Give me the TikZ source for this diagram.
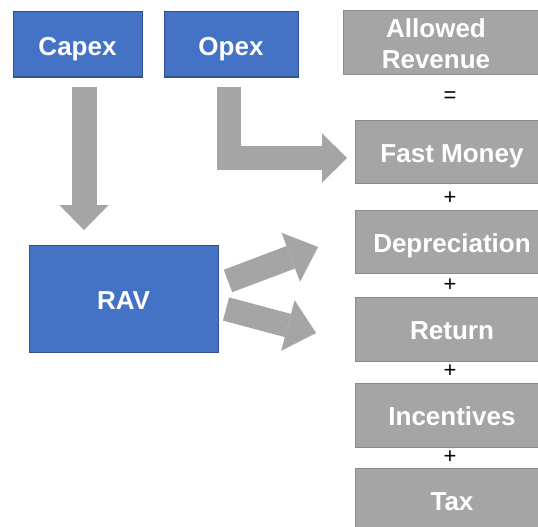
\documentclass[tikz,border=0pt]{standalone}
\usepackage{fontspec}
\setmainfont{Liberation Sans}
\usetikzlibrary{arrows.meta}
\definecolor{boxblue}{HTML}{4472C4}
\definecolor{blueedge}{HTML}{2F528F}
\definecolor{boxgray}{HTML}{A5A5A5}
\definecolor{grayedge}{HTML}{8A8A8A}
\tikzset{
  bluebox/.style={draw=blueedge, fill=boxblue, line width=1pt, text=white,
    font=\fontsize{26}{31}\selectfont\bfseries, inner sep=0pt, align=center,
    text height=21.6pt, text depth=0pt},
  graybox/.style={draw=grayedge, fill=boxgray, line width=1pt, text=white,
    font=\fontsize{26}{31}\selectfont\bfseries, inner sep=0pt, align=center,
    minimum width=194pt, text height=21.6pt, text depth=0pt},
  labeltext/.style={text=white, font=\fontsize{26}{31}\selectfont\bfseries,
    inner sep=0pt, align=center},
  opsign/.style={font=\fontsize{22}{22}\selectfont, inner sep=0pt, text=black},
  blockarrow/.style={draw=boxgray, line width=25pt, line join=miter,
    -{Triangle[width=49pt,length=25pt,line width=0.01pt]}},
  slantarrow/.style={draw=boxgray, line width=24pt,
    -{Triangle[width=52pt,length=29pt,line width=0.01pt]}},
}
\begin{document}
\begin{tikzpicture}[x=1pt,y=-1pt]
\useasboundingbox (0,0) rectangle (538,527);
\clip (0,0) rectangle (538,527);
% blue boxes
\node[bluebox, minimum width=129pt, minimum height=65pt] (capex) at (77.5,44.5) {Capex};
\node[bluebox, minimum width=134pt, minimum height=65pt] (opex) at (231,44.5) {Opex};
\node[bluebox, minimum width=189pt, minimum height=107pt] (rav) at (123.5,298.5) {RAV};
% gray column
\node[graybox, minimum width=206pt, minimum height=64pt] (allowed) at (446,43) {};
\node[labeltext] (allowedtxt) at (436,44) {Allowed\\Revenue};
\node[graybox, minimum height=63pt] (fast) at (452,151.5) {Fast Money};
\node[graybox, minimum height=63pt] (depr) at (452,241.5) {Depreciation};
\node[graybox, minimum height=64pt] (ret) at (452,329) {Return};
\node[graybox, minimum height=64pt] (inc) at (452,415) {Incentives};
\node[graybox, minimum height=64pt] (tax) at (452,500) {Tax};
% operators
\node[opsign] (eq) at (450,97) {=};
\node[opsign] (p1) at (450,198) {+};
\node[opsign] (p2) at (450,285) {+};
\node[opsign] (p3) at (450,371) {+};
\node[opsign] (p4) at (450,457) {+};
% arrow coordinates
\coordinate (capexfrom) at (84,87);
\coordinate (capexto) at (84,230);
\coordinate (opexfrom) at (229,87);
\coordinate (opexto) at (347,158);
\coordinate (ravup) at (228,281);
\coordinate (ravuptip) at (318,247);
\coordinate (ravdn) at (226,309);
\coordinate (ravdntip) at (316,333);
% block arrows
\draw[blockarrow] (capexfrom) -- (capexto);
\draw[blockarrow, line width=24pt] (opexfrom) |- (opexto);
\draw[slantarrow] (ravup) -- (ravuptip);
\draw[slantarrow] (ravdn) -- (ravdntip);
\end{tikzpicture}
\end{document}
